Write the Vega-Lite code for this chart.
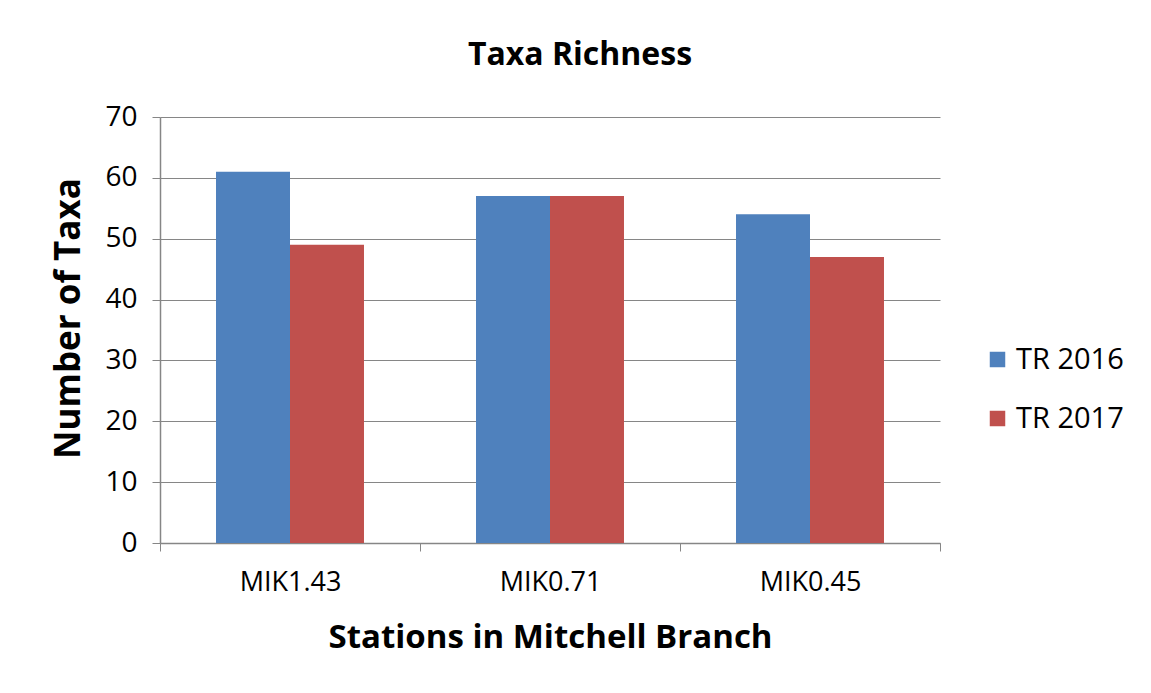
{
  "$schema": "https://vega.github.io/schema/vega-lite/v6.json",
  "autosize": "none",
  "width": 780,
  "height": 426,
  "padding": {"left": 160, "top": 117, "right": 211, "bottom": 150},
  "background": "white",
  "title": {
    "text": "Taxa Richness",
    "font": "Open Sans",
    "fontSize": 32,
    "fontWeight": "bold",
    "color": "#000000",
    "anchor": "middle",
    "offset": 31,
    "dx": 30
  },
  "data": {
    "values": [
      {"station": "MIK1.43", "series": "TR 2016", "taxa": 61},
      {"station": "MIK1.43", "series": "TR 2017", "taxa": 49},
      {"station": "MIK0.71", "series": "TR 2016", "taxa": 57},
      {"station": "MIK0.71", "series": "TR 2017", "taxa": 57},
      {"station": "MIK0.45", "series": "TR 2016", "taxa": 54},
      {"station": "MIK0.45", "series": "TR 2017", "taxa": 47}
    ]
  },
  "mark": {"type": "bar"},
  "encoding": {
    "x": {
      "field": "station",
      "type": "nominal",
      "sort": ["MIK1.43", "MIK0.71", "MIK0.45"],
      "scale": {"paddingInner": 0, "paddingOuter": 0},
      "axis": {
        "title": "Stations in Mitchell Branch",
        "titleFont": "Open Sans",
        "titleFontSize": 33,
        "titleFontWeight": "bold",
        "titleColor": "#000000",
        "titlePadding": 26,
        "labelAngle": 0,
        "labelFont": "Open Sans",
        "labelFontSize": 27,
        "labelColor": "#000000",
        "labelPadding": 18,
        "domainColor": "#868686",
        "domainWidth": 1.5,
        "tickColor": "#868686",
        "tickSize": 8,
        "tickBand": "extent",
        "grid": false
      }
    },
    "xOffset": {"field": "series", "type": "nominal", "scale": {"paddingInner": 0, "paddingOuter": 0.757}},
    "y": {
      "field": "taxa",
      "type": "quantitative",
      "scale": {"domain": [0, 70], "nice": false},
      "axis": {
        "title": "Number of Taxa",
        "titleFont": "Open Sans",
        "titleFontSize": 35,
        "titleFontWeight": "bold",
        "titleColor": "#000000",
        "titlePadding": 18,
        "titleY": 201,
        "values": [0, 10, 20, 30, 40, 50, 60, 70],
        "labelFont": "Open Sans",
        "labelFontSize": 28,
        "labelColor": "#000000",
        "labelPadding": 15,
        "domainColor": "#868686",
        "domainWidth": 1.5,
        "tickColor": "#868686",
        "tickSize": 8,
        "grid": true,
        "gridColor": "#868686",
        "gridWidth": 1
      }
    },
    "color": {
      "field": "series",
      "type": "nominal",
      "scale": {"domain": ["TR 2016", "TR 2017"], "range": ["#4F81BD", "#C0504D"]},
      "legend": {
        "title": null,
        "orient": "none",
        "legendX": 823,
        "legendY": 228,
        "symbolType": "square",
        "symbolSize": 240,
        "symbolStrokeWidth": 0,
        "labelFont": "Open Sans",
        "labelFontSize": 29,
        "labelColor": "#000000",
        "rowPadding": 29,
        "labelOffset": 4
      }
    }
  },
  "config": {
    "view": {"stroke": null}
  }
}
